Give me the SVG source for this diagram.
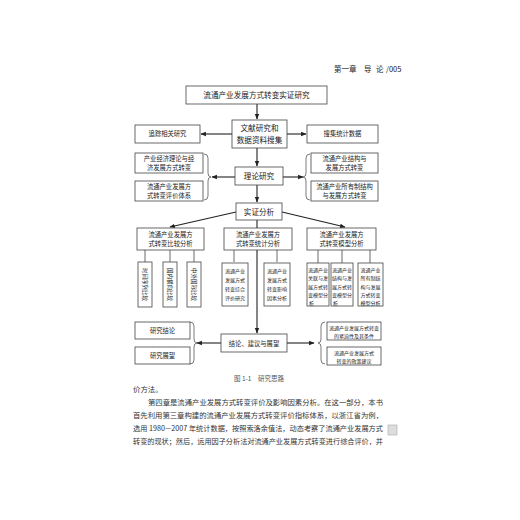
<svg xmlns="http://www.w3.org/2000/svg" width="520" height="520" viewBox="0 0 520 520">
<style>
.b{fill:#fff;stroke:#444;stroke-width:0.8}
.t{font-family:"Noto Sans CJK SC","Liberation Sans",sans-serif;font-size:6.3px;fill:#222;text-anchor:middle}
.big{font-size:7.6px}
.s{font-size:5px}
.body{font-family:"Noto Sans CJK SC","Liberation Serif",serif;font-size:7.4px;fill:#333}
.l{stroke:#222;stroke-width:1.1;fill:none}
.br{stroke:#444;stroke-width:0.7;fill:none}
</style>
<defs>
<marker id="a" viewBox="0 0 10 10" refX="9" refY="5" markerWidth="5" markerHeight="5" orient="auto"><path d="M0,1 L10,5 L0,9 z" fill="#222"/></marker>
</defs>
<rect width="520" height="520" fill="#fff"/>
<g class="t" style="font-size:7.5px;text-anchor:start">
<text x="334" y="72">第一章</text><text x="364" y="72">导</text><text x="376" y="72">论</text><text x="386" y="72">/005</text>
</g>

<g id="connectors">
<line class="l" x1="257" y1="104" x2="257" y2="119" marker-end="url(#a)"/>
<line class="l" x1="232" y1="134" x2="201" y2="134" marker-end="url(#a)"/>
<line class="l" x1="287" y1="134" x2="306" y2="134" marker-end="url(#a)"/>
<line class="l" x1="257" y1="148" x2="257" y2="166" marker-end="url(#a)"/>
<line class="l" x1="235" y1="177" x2="212" y2="177" marker-end="url(#a)"/>
<line class="l" x1="283" y1="177" x2="303" y2="177" marker-end="url(#a)"/>
<line class="l" x1="257" y1="185" x2="257" y2="202" marker-end="url(#a)"/>
<line class="l" x1="236" y1="212" x2="170" y2="227" marker-end="url(#a)"/>
<line class="l" x1="282" y1="212" x2="345" y2="227" marker-end="url(#a)"/>
<line class="l" x1="257" y1="220" x2="257" y2="333" marker-end="url(#a)"/>
<line class="l" x1="221" y1="343" x2="197" y2="343" marker-end="url(#a)"/>
<line class="l" x1="287" y1="343" x2="314" y2="343" marker-end="url(#a)"/>
<g stroke="#444" stroke-width="0.8">
<line x1="145" y1="250" x2="145" y2="262"/><line x1="170" y1="250" x2="170" y2="262"/><line x1="194" y1="250" x2="194" y2="262"/>
<line x1="234" y1="250" x2="234" y2="262"/><line x1="277" y1="250" x2="277" y2="262"/>
<line x1="318" y1="250" x2="318" y2="263"/><line x1="342" y1="250" x2="342" y2="263"/><line x1="370" y1="250" x2="370" y2="263"/>
</g>
<path class="br" d="M204,154 q4,0 4,4 v15 q0,4 3,4 q-3,0 -3,4 v15 q0,4 -4,4"/>
<path class="br" d="M310,154 q-4,0 -4,4 v15 q0,4 -3,4 q3,0 3,4 v15 q0,4 4,4"/>
<path class="br" d="M190,322 q4,0 4,4 v13 q0,4 3,4 q-3,0 -3,4 v13 q0,4 -4,4"/>
<path class="br" d="M325,322 q-4,0 -4,4 v13 q0,4 -3,4 q3,0 3,4 v13 q0,4 4,4"/>
</g>

<g id="n-top"><rect class="b" x="186" y="86" width="141" height="18"/><text class="t big" x="256.5" y="98">流通产业发展方式转变实证研究</text></g>
<g id="n-lit"><rect class="b" x="232" y="120" width="55" height="28"/><text class="t big" x="259.5" y="131">文献研究和</text><text class="t big" x="259.5" y="143">数据资料搜集</text></g>
<g id="n-track"><rect class="b" x="135" y="125" width="65" height="18"/><text class="t" x="167.5" y="136">追踪相关研究</text></g>
<g id="n-data"><rect class="b" x="307" y="125" width="71" height="18"/><text class="t" x="342.5" y="136">搜集统计数据</text></g>

<g id="n-theory"><rect class="b" x="235" y="167" width="48" height="18"/><text class="t big" x="259" y="179">理论研究</text></g>
<g id="n-l1"><rect class="b" x="135" y="153" width="68" height="20"/><text class="t" x="169" y="161">产业经济理论与经</text><text class="t" x="169" y="170">济发展方式转变</text></g>
<g id="n-l2"><rect class="b" x="135" y="181" width="68" height="20"/><text class="t" x="169" y="189">流通产业发展方</text><text class="t" x="169" y="198">式转变评价体系</text></g>
<g id="n-r1"><rect class="b" x="311" y="153" width="67" height="20"/><text class="t" x="344.5" y="161">流通产业结构与</text><text class="t" x="344.5" y="170">发展方式转变</text></g>
<g id="n-r2"><rect class="b" x="311" y="181" width="67" height="20"/><text class="t" x="344.5" y="189">流通产业所有制结构</text><text class="t" x="344.5" y="198">与发展方式转变</text></g>

<g id="n-emp"><rect class="b" x="236" y="203" width="46" height="17"/><text class="t big" x="259" y="214.5">实证分析</text></g>
<g id="n-cmp"><rect class="b" x="137" y="228" width="67" height="22"/><text class="t" x="170.5" y="237">流通产业发展方</text><text class="t" x="170.5" y="246">式转变比较分析</text></g>
<g id="n-stat"><rect class="b" x="224" y="228" width="68" height="22"/><text class="t" x="258" y="237">流通产业发展方</text><text class="t" x="258" y="246">式转变统计分析</text></g>
<g id="n-model"><rect class="b" x="307" y="228" width="69" height="22"/><text class="t" x="341.5" y="237">流通产业发展方</text><text class="t" x="341.5" y="246">式转变模型分析</text></g>

<g id="n-v1"><rect class="b" x="138" y="262" width="14" height="45"/><text class="t" style="font-size:5.5px" transform="translate(145,284.5) rotate(90)" y="2">时间序列比较</text></g>
<g id="n-v2"><rect class="b" x="163" y="262" width="14" height="45"/><text class="t" style="font-size:5.5px" transform="translate(170,284.5) rotate(90)" y="2">国内横向比较</text></g>
<g id="n-v3"><rect class="b" x="187" y="262" width="14" height="45"/><text class="t" style="font-size:5.5px" transform="translate(194,284.5) rotate(90)" y="2">中外国际比较</text></g>

<g id="n-s1"><rect class="b" x="222" y="263" width="26" height="43"/><text class="t s" x="235" y="273">流通产业</text><text class="t s" x="235" y="282">发展方式</text><text class="t s" x="235" y="291">转变综合</text><text class="t s" x="235" y="300">评价研究</text></g>
<g id="n-s2"><rect class="b" x="264" y="263" width="26" height="43"/><text class="t s" x="277" y="273">流通产业</text><text class="t s" x="277" y="282">发展方式</text><text class="t s" x="277" y="291">转变影响</text><text class="t s" x="277" y="300">因素分析</text></g>

<g id="n-m1"><rect class="b" x="307" y="263" width="22" height="43"/><text class="t s" x="318" y="271.5">流通产业</text><text class="t s" x="318" y="280">关联与发</text><text class="t s" x="318" y="288.5">展方式转</text><text class="t s" x="318" y="297">变模型分</text><text class="t s" x="309" y="305" style="text-anchor:start">析</text></g>
<g id="n-m2"><rect class="b" x="331" y="263" width="22" height="43"/><text class="t s" x="342" y="271.5">流通产业</text><text class="t s" x="342" y="280">结构与发</text><text class="t s" x="342" y="288.5">展方式转</text><text class="t s" x="342" y="297">变模型分</text><text class="t s" x="333" y="305" style="text-anchor:start">析</text></g>
<g id="n-m3"><rect class="b" x="358" y="263" width="25" height="43"/><text class="t s" x="370.5" y="271.5">流通产业</text><text class="t s" x="370.5" y="280">所有制结</text><text class="t s" x="370.5" y="288.5">构与发展</text><text class="t s" x="370.5" y="297">方式转变</text><text class="t s" x="370.5" y="305">模型分析</text></g>

<g id="n-concl"><rect class="b" x="221" y="334" width="66" height="18"/><text class="t" x="254" y="345.5">结论、建议与展望</text></g>
<g id="n-c1"><rect class="b" x="135" y="322" width="55" height="17"/><text class="t" x="162.5" y="333">研究结论</text></g>
<g id="n-c2"><rect class="b" x="135" y="347" width="55" height="17"/><text class="t" x="162.5" y="358">研究展望</text></g>
<g id="n-p1"><rect class="b" x="327" y="322" width="54" height="18"/><text class="t s" x="354" y="329.5">流通产业发展方式转变</text><text class="t s" x="354" y="337.5">的紧迫性及其条件</text></g>
<g id="n-p2"><rect class="b" x="327" y="347" width="54" height="18"/><text class="t s" x="354" y="354.5">流通产业发展方式</text><text class="t s" x="354" y="362.5">转变的政策建议</text></g>

<text class="t" x="259" y="381" style="font-size:6.5px;fill:#555">图 1-1　研究思路</text>

<g class="body">
<text x="133" y="392">价方法。</text>
<text x="148" y="405" textLength="235" lengthAdjust="spacingAndGlyphs">第四章是流通产业发展方式转变评价及影响因素分析。在这一部分，本书</text>
<text x="133" y="418" textLength="250" lengthAdjust="spacingAndGlyphs">首先利用第三章构建的流通产业发展方式转变评价指标体系，以浙江省为例，</text>
<text x="133" y="431" textLength="250" lengthAdjust="spacingAndGlyphs">选用 1980—2007 年统计数据，按照索洛余值法，动态考察了流通产业发展方式</text>
<text x="133" y="444" textLength="250" lengthAdjust="spacingAndGlyphs">转变的现状；然后，运用因子分析法对流通产业发展方式转变进行综合评价，并</text>
</g>
<rect x="388" y="425" width="9" height="10" fill="#ddd" stroke="#aaa" stroke-width="0.6"/>
</svg>
